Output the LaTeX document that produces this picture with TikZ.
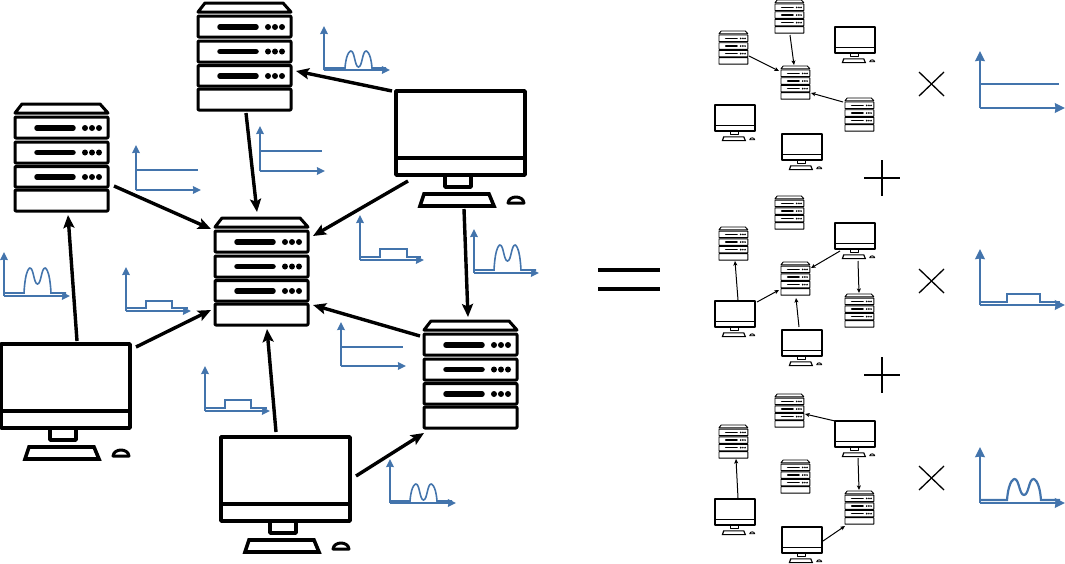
\documentclass[tikz,border=0pt]{standalone}
\usetikzlibrary{arrows.meta,calc}
\definecolor{chartblue}{HTML}{4374AC}
\tikzset{
  anchorbox/.style={inner sep=0pt,outer sep=0pt,anchor=north west,draw=none},
  bigarrow/.style={line width=3.4pt,-{Stealth[length=13pt,width=11pt,inset=2.5pt]}},
  smallarrow/.style={line width=1pt,-{Stealth[length=4.5pt,width=4pt,inset=1pt]}},
  axisline/.style={draw=chartblue,line width=1.9pt,-{Stealth[length=8pt,width=7.5pt,inset=0.5pt]}},
  sigline/.style={draw=chartblue,line width=1.6pt},
  bigaxisline/.style={draw=chartblue,line width=2.6pt,-{Stealth[length=10pt,width=9.5pt,inset=0.5pt]}},
  bigsigline/.style={draw=chartblue,line width=2.2pt},
  mathline/.style={line width=1.3pt},
}
% name, x, y, scale
\newcommand{\serverIcon}[4]{%
  \node[anchorbox,minimum width=#4*93pt,minimum height=#4*107pt] (#1) at (#2,#3) {};
  \begin{scope}[shift={(#2,#3)},line width=#4*3pt,line join=round]
    \draw[fill=white] (#4*7,0) -- (#4*85,0) -- (#4*93,#4*9) -- (0,#4*9) -- cycle;
    \foreach \yt/\yb in {13/34,38/59,62.5/83,86/107}{
      \draw[rounded corners=#4*0.8pt,fill=white] (0,#4*\yt) rectangle (#4*93,#4*\yb);
    }
    \foreach \yc in {24,48.5,73}{
      \draw[line width=#4*5.5pt,line cap=round] (#4*22,#4*\yc) -- (#4*58,#4*\yc);
      \foreach \xc in {70,77,84}{
        \fill (#4*\xc,#4*\yc) circle[radius=#4*3pt];
      }
    }
  \end{scope}
}
\newcommand{\monitorIcon}[4]{%
  \node[anchorbox,minimum width=#4*129pt,minimum height=#4*115pt] (#1) at (#2,#3) {};
  \begin{scope}[shift={(#2,#3)},line width=#4*3.6pt,line join=round]
    \draw (#4*49,#4*84) -- (#4*49,#4*96) -- (#4*75,#4*96) -- (#4*75,#4*84);
    \draw[fill=white] (0,0) rectangle (#4*129,#4*84);
    \draw (0,#4*67) -- (#4*129,#4*67);
    \draw[line join=miter] (#4*28,#4*103) -- (#4*93,#4*103) -- (#4*98,#4*115) -- (#4*24,#4*115) -- cycle;
    \draw[line width=#4*3pt] (#4*112,#4*112) .. controls (#4*113,#4*104) and (#4*127,#4*104) .. (#4*128,#4*112) -- cycle;
  \end{scope}
}
% style, a, dx, dy, b, dx, dy
\newcommand{\conn}[7]{%
  \draw[#1] ($(#2.north west)+(#3,#4)$) -- ($(#5.north west)+(#6,#7)$);
}
% x y xright ytop
\newcommand{\axesSmall}[4]{%
  \draw[axisline] (#1,#2) -- (#3,#2);
  \draw[axisline] (#1,#2) -- (#1,#4);
}
\newcommand{\axesBig}[4]{%
  \draw[bigaxisline] (#1,#2) -- (#3,#2);
  \draw[bigaxisline] (#1,#2) -- (#1,#4);
}
% style, xstart, x0, base, width, height, dipheight, xend
\newcommand{\humpLine}[8]{%
  \pgfmathsetmacro{\xa}{#3+0.22*#5}\pgfmathsetmacro{\xb}{#3+0.5*#5}\pgfmathsetmacro{\xc}{#3+0.78*#5}\pgfmathsetmacro{\xd}{#3+#5}%
  \pgfmathsetmacro{\ytop}{#4-#6}\pgfmathsetmacro{\ydip}{#4-#7}%
  \pgfmathsetmacro{\xaa}{#3+0.05*#5}\pgfmathsetmacro{\xbb}{#3+0.36*#5}\pgfmathsetmacro{\xcc}{#3+0.64*#5}\pgfmathsetmacro{\xdd}{#3+0.95*#5}%
  \draw[#1] (#2,#4) -- (#3,#4)
  .. controls (\xaa,\ytop) and (\xa,\ytop) .. (\xa,\ytop)
  .. controls (\xbb,\ytop) and (\xbb,\ydip) .. (\xb,\ydip)
  .. controls (\xcc,\ydip) and (\xcc,\ytop) .. (\xc,\ytop)
  .. controls (\xc,\ytop) and (\xdd,\ytop) .. (\xd,#4) -- (#8,#4);
}
\begin{document}
\begin{tikzpicture}[x=1pt,y=-1pt]
\useasboundingbox (0,0) rectangle (1065,563);
% large icons
\serverIcon{T}{198}{3}{1}
\serverIcon{L}{15}{104}{1}
\serverIcon{C}{215}{218}{1}
\serverIcon{BR}{424}{321}{1}
\monitorIcon{mR}{396}{91}{1}
\monitorIcon{mL}{1}{344}{1}
\monitorIcon{mB}{221}{437}{1}
% large connectors
\conn{bigarrow}{mR}{-4}{0}{T}{98}{68}
\conn{bigarrow}{T}{48}{110}{C}{42}{-6}
\conn{bigarrow}{L}{99}{82}{C}{-4}{11}
\conn{bigarrow}{mR}{12}{90}{C}{98}{18}
\conn{bigarrow}{mR}{68}{118}{BR}{44}{-4}
\conn{bigarrow}{BR}{-4}{15}{C}{98}{87}
\conn{bigarrow}{mL}{76}{-3}{L}{53}{111}
\conn{bigarrow}{mL}{135}{3}{C}{-4}{92}
\conn{bigarrow}{mB}{55}{-5}{C}{52}{111}
\conn{bigarrow}{mB}{135}{39}{BR}{0}{112}
% small charts, left part
\axesSmall{324}{70}{390}{26}
\humpLine{sigline}{324}{345}{68}{27}{17}{1}{386}
\axesSmall{136}{190}{201}{145}
\draw[sigline] (136,170) -- (198,170);
\axesSmall{260}{171}{325}{126}
\draw[sigline] (260,151) -- (322,151);
\axesSmall{360}{260}{424}{215}
\draw[sigline] (360,257) -- (380,257) -- (380,249) -- (407,249) -- (407,257) -- (421,257);
\axesSmall{474}{273}{539}{229}
\humpLine{sigline}{474}{494}{270}{27}{25}{9}{536}
\axesSmall{4}{296}{70}{252}
\humpLine{sigline}{4}{24}{293}{27}{25}{9}{66}
\axesSmall{126}{311}{191}{267}
\draw[sigline] (126,308) -- (146,308) -- (146,301) -- (172,301) -- (172,308) -- (188,308);
\axesSmall{341}{366}{406}{322}
\draw[sigline] (341,347) -- (403,347);
\axesSmall{205}{411}{270}{366}
\draw[sigline] (205,408) -- (225,408) -- (225,400) -- (251,400) -- (251,408) -- (267,408);
\axesSmall{390}{503}{456}{459}
\humpLine{sigline}{390}{410}{501}{27}{17}{1}{452}
% equals
\draw[line width=3.6pt] (598,270) -- (660,270);
\draw[line width=3.6pt] (598,289) -- (660,289);
% small group 1
\serverIcon{aA}{719}{31}{0.31}
\serverIcon{aB}{775}{0}{0.31}
\serverIcon{aC}{781}{66}{0.31}
\serverIcon{aD}{845}{98}{0.31}
\monitorIcon{aE}{835}{27}{0.31}
\monitorIcon{aF}{715}{105}{0.31}
\monitorIcon{aG}{782}{134}{0.31}
\conn{smallarrow}{aB}{15}{35}{aC}{13}{-1}
\conn{smallarrow}{aA}{30}{25}{aC}{-2}{5}
\conn{smallarrow}{aD}{-2}{4}{aC}{30}{27}
% small group 2
\serverIcon{bA}{719}{227}{0.31}
\serverIcon{bB}{775}{196}{0.31}
\serverIcon{bC}{781}{262}{0.31}
\serverIcon{bD}{845}{294}{0.31}
\monitorIcon{bE}{835}{223}{0.31}
\monitorIcon{bF}{715}{301}{0.31}
\monitorIcon{bG}{782}{330}{0.31}
\conn{smallarrow}{bF}{23}{-1}{bA}{16}{34}
\conn{smallarrow}{bF}{42}{1}{bC}{-2}{28}
\conn{smallarrow}{bG}{17}{-3}{bC}{15}{36}
\conn{smallarrow}{bE}{5}{28}{bC}{30}{6}
\conn{smallarrow}{bE}{23}{38}{bD}{14}{-1}
% small group 3
\serverIcon{cA}{719}{425}{0.31}
\serverIcon{cB}{775}{394}{0.31}
\serverIcon{cC}{781}{460}{0.31}
\serverIcon{cD}{845}{491}{0.31}
\monitorIcon{cE}{835}{421}{0.31}
\monitorIcon{cF}{715}{499}{0.31}
\monitorIcon{cG}{782}{527}{0.31}
\conn{smallarrow}{cF}{23}{-1}{cA}{17}{34}
\conn{smallarrow}{cE}{0}{0}{cB}{30}{20}
\conn{smallarrow}{cE}{23}{37}{cD}{14}{-1}
\conn{smallarrow}{cG}{41}{14}{cD}{0}{35}
% plus and times
\foreach \yc in {178,375}{
  \draw[mathline] (864,\yc) -- (900,\yc);
  \draw[mathline] (882,\yc-18) -- (882,\yc+18);
}
\foreach \yc in {84,281,478}{
  \draw[mathline] (919,\yc-12) -- (944,\yc+12);
  \draw[mathline] (944,\yc-12) -- (919,\yc+12);
}
% right charts
\axesBig{980}{108}{1065}{51}
\draw[bigsigline] (980,84) -- (1059,84);
\axesBig{980}{305}{1065}{249}
\draw[bigsigline] (980,302) -- (1007,302) -- (1007,294) -- (1040,294) -- (1040,302) -- (1060,302);
\axesBig{980}{503}{1065}{447}
\humpLine{bigsigline}{980}{1007}{500}{34}{21}{5}{1060}
\end{tikzpicture}
\end{document}
